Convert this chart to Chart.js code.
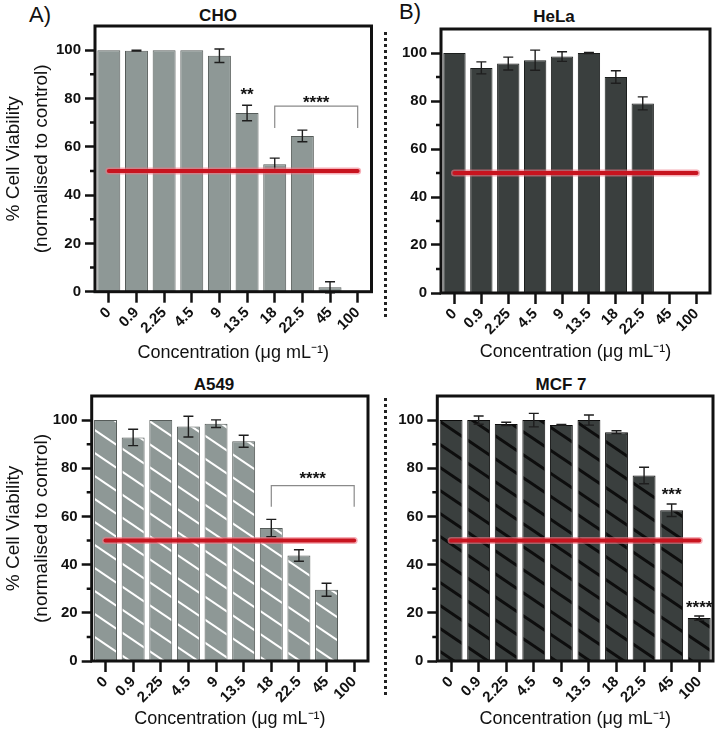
<!DOCTYPE html>
<html>
<head>
<meta charset="utf-8">
<script src="https://cdn.jsdelivr.net/npm/chart.js@4.4.1/dist/chart.umd.min.js"></script>
<style>
  body { margin: 0; background: #fff; width: 720px; height: 730px; position: relative; overflow: hidden;
         font-family: 'Liberation Sans', Arial, sans-serif; color: #111; }
  canvas { position: absolute; }
  .lbl { position: absolute; white-space: nowrap; transform: translate(-50%, -50%); line-height: 1; }
  .panel { font-size: 22px; }
  .title { font-size: 17px; font-weight: bold; }
  .divider { position: absolute; left: 384px; width: 2.5px;
             background: repeating-linear-gradient(to bottom, #222 0 3px, transparent 3px 6px); }
</style>
</head>
<body>
<div class="lbl panel" style="left:40px;top:15px">A)</div>
<div class="lbl panel" style="left:410px;top:12px">B)</div>
<div class="lbl title" style="left:218px;top:15px">CHO</div>
<div class="lbl title" style="left:554px;top:16px">HeLa</div>
<div class="lbl title" style="left:214px;top:384px">A549</div>
<div class="lbl title" style="left:561px;top:384px">MCF 7</div>
<div class="divider" style="top:32px;height:288px"></div>
<div class="divider" style="top:398px;height:300px"></div>

<canvas id="choChart" width="375" height="366" style="left:0;top:0"></canvas>
<canvas id="helaChart" width="328" height="366" style="left:392px;top:0"></canvas>
<canvas id="a549Chart" width="375" height="364" style="left:0;top:366px"></canvas>
<canvas id="mcf7Chart" width="328" height="364" style="left:392px;top:366px"></canvas>

<script>
// Concentrations (µg/mL) on the x axis
const concentrations = ['0', '0.9', '2.25', '4.5', '9', '13.5', '18', '22.5', '45', '100'];
const minorTicks = [10, 30, 50, 70, 90];
const halfLine = [50, 50, 50, 50, 50, 50, 50, 50, 50, 50];

// % cell viability, mean and error
const choMean = [100, 99.8, 100, 100, 97.7, 74, 52.8, 64.5, 1.8, 0];
const choErr = [0, 0.2, 0, 0, 2.8, 3.2, 2.5, 2.4, 2.3, 0];
const helaMean = [100, 93.8, 95.6, 97, 98.5, 100, 90, 79, null, null];
const helaErr = [0, 2.5, 2.7, 4.2, 2, 0.2, 2.6, 2.7, 0, 0];
const a549Mean = [100, 92.8, 100, 97.3, 98.5, 91.2, 55.2, 43.8, 29.6, 0.5];
const a549Err = [0, 3.4, 0, 4.3, 1.6, 2.5, 3.6, 2.4, 2.7, 0];
const mcf7Mean = [100, 100, 98.4, 100, 98, 100, 95, 77, 62.6, 17.8];
const mcf7Err = [0, 1.7, 0.7, 2.8, 0.2, 2.1, 0.6, 3.4, 2.6, 0.9];

// significance: [from, to, level, stars] and brackets: [from, to, top, leg end]
const choStars = [['13.5', '13.5', 83.5, '**'], ['18', '100', 80, '****']];
const choBrackets = [['18', '100', 76.8, 67.8]];
const helaStars = [];
const helaBrackets = [];
const a549Stars = [['18', '100', 77.7, '****']];
const a549Brackets = [['18', '100', 72.8, 64]];
const mcf7Stars = [['45', '45', 70.9, '***'], ['100', '100', 24.2, '****']];
const mcf7Brackets = [];

const FONT = "'Liberation Sans', Arial, sans-serif";
const INK = '#111';

function hatch(bg, line, width) {
    const w = 34, h = 23;
    const c = document.createElement('canvas');
    c.width = w; c.height = h;
    const g = c.getContext('2d');
    g.fillStyle = bg;
    g.fillRect(0, 0, w, h);
    g.strokeStyle = line;
    g.lineWidth = width;
    for (let k = -1; k <= 1; k++) {
        g.beginPath();
        g.moveTo(-w, -h + k * h);
        g.lineTo(2 * w, 2 * h + k * h);
        g.stroke();
    }
    return g.createPattern(c, 'repeat');
}

function extrasPlugin(errors, stars, brackets) {
    const idx = lbl => concentrations.indexOf(lbl);
    return {
        id: 'extras',
        afterDatasetDraw(chart, args) {
            if (args.index !== 0) return;
            const { ctx, scales: { x, y } } = chart;
            const values = chart.data.datasets[0].data;
            ctx.save();
            ctx.strokeStyle = '#1e1e1e';
            ctx.lineWidth = 1.4;
            values.forEach((v, i) => {
                const e = errors[i];
                if (v == null || !e) return;
                const cx = x.getPixelForValue(i);
                const top = y.getPixelForValue(v + e);
                const bot = y.getPixelForValue(v - e);
                ctx.beginPath();
                ctx.moveTo(cx, top); ctx.lineTo(cx, bot);
                ctx.moveTo(cx - 5, top); ctx.lineTo(cx + 5, top);
                ctx.moveTo(cx - 5, bot); ctx.lineTo(cx + 5, bot);
                ctx.stroke();
            });
            ctx.restore();
        },
        afterDraw(chart) {
            const { ctx, chartArea: a, scales: { x, y } } = chart;
            ctx.save();
            // frame
            ctx.strokeStyle = INK;
            ctx.lineWidth = 3;
            ctx.strokeRect(a.left, a.top, a.right - a.left, a.bottom - a.top);
            // minor ticks
            ctx.lineWidth = 2.5;
            ctx.beginPath();
            minorTicks.forEach(v => {
                const py = y.getPixelForValue(v);
                ctx.moveTo(a.left - 5, py);
                ctx.lineTo(a.left, py);
            });
            ctx.stroke();
            // brackets
            ctx.strokeStyle = '#8a8a8a';
            ctx.lineWidth = 1.2;
            brackets.forEach(([from, to, top, leg]) => {
                const x1 = x.getPixelForValue(idx(from));
                const x2 = x.getPixelForValue(idx(to));
                const yt = y.getPixelForValue(top);
                const yl = y.getPixelForValue(leg);
                ctx.beginPath();
                ctx.moveTo(x1, yl); ctx.lineTo(x1, yt); ctx.lineTo(x2, yt); ctx.lineTo(x2, yl);
                ctx.stroke();
            });
            // stars
            ctx.fillStyle = INK;
            ctx.font = 'bold 17px ' + FONT;
            ctx.textAlign = 'center';
            ctx.textBaseline = 'alphabetic';
            stars.forEach(([from, to, level, text]) => {
                const cx = (x.getPixelForValue(idx(from)) + x.getPixelForValue(idx(to))) / 2;
                ctx.fillText(text, cx, y.getPixelForValue(level) + 10);
            });
            ctx.restore();
        }
    };
}

function makePanel(id, mean, errors, stars, brackets, look) {
    const tickFont = { family: FONT, size: 15, weight: 'bold' };
    return new Chart(document.getElementById(id), {
        data: {
            labels: concentrations,
            datasets: [
                {
                    type: 'bar',
                    data: mean,
                    backgroundColor: look.fill,
                    borderColor: look.border,
                    borderWidth: 1,
                    categoryPercentage: 1,
                    barPercentage: 0.83,
                    order: 2
                },
                {
                    type: 'line',
                    data: halfLine,
                    borderColor: 'rgba(240,120,135,0.6)',
                    borderWidth: 7,
                    borderCapStyle: 'round',
                    pointRadius: 0,
                    order: 1
                },
                {
                    type: 'line',
                    data: halfLine,
                    borderColor: '#c8141f',
                    borderWidth: 4,
                    borderCapStyle: 'round',
                    pointRadius: 0,
                    order: 0
                }
            ]
        },
        options: {
            responsive: false,
            animation: false,
            layout: { padding: look.padding },
            plugins: { legend: { display: false }, tooltip: { enabled: false } },
            scales: {
                x: {
                    type: 'category',
                    offset: true,
                    grid: { offset: false, drawOnChartArea: false, tickLength: 11, tickWidth: 2.5, tickColor: INK },
                    border: { display: false },
                    ticks: { autoSkip: false, minRotation: 45, maxRotation: 45, padding: 1, color: INK, font: tickFont },
                    title: {
                        display: true,
                        text: 'Concentration (μg mL⁻¹)',
                        color: INK,
                        font: { family: FONT, size: 18 },
                        padding: { top: 0, bottom: look.titlePad }
                    },
                    afterFit: s => { s.height = look.xHeight; }
                },
                y: {
                    min: 0,
                    max: 110,
                    grid: { drawOnChartArea: false, tickLength: 10, tickWidth: 2.5, tickColor: INK },
                    border: { display: false },
                    ticks: { stepSize: 20, includeBounds: false, padding: 4, color: INK, font: tickFont },
                    title: {
                        display: look.yTitle,
                        text: ['% Cell Viability', '(normalised to control)'],
                        color: INK,
                        font: { family: FONT, size: 19, lineHeight: 1.45 },
                        padding: { top: 0, bottom: 0 }
                    },
                    afterFit: s => { s.width = look.yWidth; }
                }
            }
        },
        plugins: [extrasPlugin(errors, stars, brackets)]
    });
}

document.addEventListener('DOMContentLoaded', () => {
    const lightGrey = '#8e9896';
    const darkGrey = '#3a3f3e';

    makePanel('choChart', choMean, choErr, choStars, choBrackets, {
        fill: lightGrey, border: '#555b59',
        padding: { top: 26, right: 3.5, left: 0, bottom: 0 },
        yWidth: 95, xHeight: 74.3, titlePad: 2, yTitle: true
    });
    makePanel('helaChart', helaMean, helaErr, helaStars, helaBrackets, {
        fill: darkGrey, border: '#1c1f1e',
        padding: { top: 29, right: 10, left: 0, bottom: 0 },
        yWidth: 49, xHeight: 73, titlePad: 3, yTitle: false
    });
    makePanel('a549Chart', a549Mean, a549Err, a549Stars, a549Brackets, {
        fill: hatch(lightGrey, '#ffffff', 2), border: '#555b59',
        padding: { top: 30, right: 7, left: 0, bottom: 0 },
        yWidth: 91.7, xHeight: 69, titlePad: 0, yTitle: true
    });
    makePanel('mcf7Chart', mcf7Mean, mcf7Err, mcf7Stars, mcf7Brackets, {
        fill: hatch(darkGrey, '#0d0d0d', 3), border: '#0d0d0d',
        padding: { top: 30, right: 7, left: 0, bottom: 0 },
        yWidth: 45.3, xHeight: 69, titlePad: 0, yTitle: false
    });
});
</script>
</body>
</html>
